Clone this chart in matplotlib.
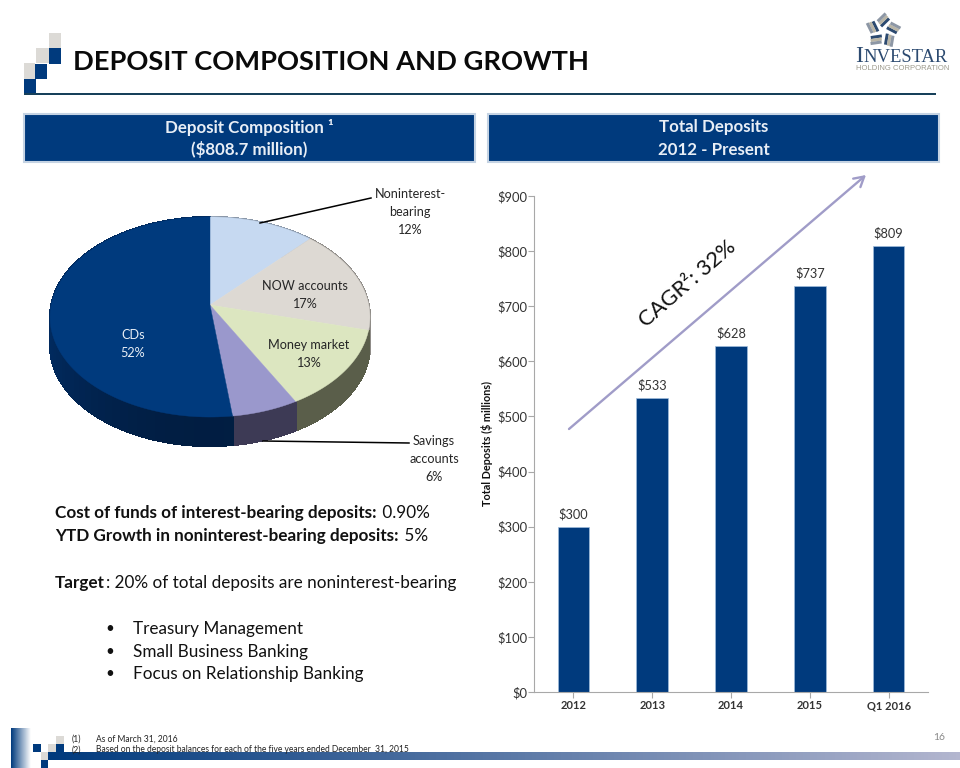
import numpy as np
import matplotlib
matplotlib.use("Agg")
import matplotlib.pyplot as plt
from matplotlib.patches import Polygon, Rectangle
from matplotlib.colors import LinearSegmentedColormap

plt.rcParams['font.family'] = ['Lato', 'DejaVu Sans']

# pie data
pie_labels = ["Noninterest-\nbearing", "NOW accounts", "Money market", "Savings\naccounts", "CDs"]
pie_shares = [12, 17, 13, 6, 52]
pie_colors = ["#c6d9f1", "#ddd9d3", "#dce6c0", "#9a98cc", "#003a7d"]
side_colors = ["#8a97a8", "#8f8c88", "#5a5e4a", "#3d3a55", "#012a5e"]

# bar data
years = ["2012", "2013", "2014", "2015", "Q1 2016"]
totals = [300, 533, 628, 737, 809]
y_ticks = [0, 100, 200, 300, 400, 500, 600, 700, 800, 900]

NAVY = "#003a7d"
W, H = 960, 768

fig = plt.figure(figsize=(9.6, 7.68), dpi=100, facecolor="white")
bg = fig.add_axes([0, 0, 1, 1])
bg.set_xlim(0, W)
bg.set_ylim(H, 0)
bg.axis("off")


def rect(x0, y0, x1, y1, color, z=2, **kw):
    bg.add_patch(Rectangle((x0, y0), x1 - x0, y1 - y0, facecolor=color, edgecolor="none", zorder=z, **kw))


def mixed(x, y, bold, regular, size):
    # bold part followed by regular part on the same line
    t = bg.text(x, y, bold, fontsize=size, fontweight="bold", va="center", color="#111111", zorder=6)
    if regular:
        fig.canvas.draw()
        ext = t.get_window_extent()
        bg.text(ext.x1 + 1, y, regular, fontsize=size, va="center", color="#111111", zorder=6)


# title block
for sq in [(49, 33, 61, 48, "#dcdad6"), (49, 48, 61, 64, NAVY), (36, 48, 49, 63, "#dcdad6"),
           (35, 64, 47, 79, NAVY), (24, 63, 35, 79, "#dcdad6"), (24, 79, 36, 95, NAVY)]:
    rect(*sq)
rect(24, 93, 936, 95, "#17405a")
bg.text(73, 62, "DEPOSIT COMPOSITION AND GROWTH", fontsize=19.6, fontweight="bold",
        va="center", color="#0a0a0a")

# header boxes
for x0, x1, l1, l2 in [(24, 475, "Deposit Composition ¹", "($808.7 million)"),
                       (488, 939, "Total Deposits", "2012 - Present")]:
    bg.add_patch(Rectangle((x0, 114), x1 - x0, 48, facecolor=NAVY, edgecolor="#c5d3e3", lw=1.5, zorder=2))
    xc = (x0 + x1) / 2
    bg.text(xc, 127, l1, color="#e8eef6", fontsize=12.2, fontweight="bold", ha="center", va="center", zorder=3)
    bg.text(xc, 150, l2, color="#e8eef6", fontsize=12.2, fontweight="bold", ha="center", va="center", zorder=3)

# logo
star_c = np.array((883, 31))
for ang in np.arange(0, 360, 72) + 20:
    a = np.radians(ang)
    d = np.array([np.cos(a), np.sin(a)])
    n = np.array([-d[1], d[0]])
    for off, col in [(0, "#2c4a70"), (3, "#b9b5a6"), (6, "#8d97a5")]:
        p0 = star_c + d * (5 + off) + n * 1
        p1 = p0 + n * 11 + d * 2
        bg.plot([p0[0], p1[0]], [p0[1], p1[1]], color=col, lw=2.2, solid_capstyle="butt")
serif = ["Liberation Serif", "DejaVu Serif"]
bg.text(855, 56, "I", fontsize=17, family=serif, color="#2c4a70", va="center")
bg.text(863, 57, "NVESTAR", fontsize=13.4, family=serif, color="#2c4a70", va="center")
bg.text(856, 69, "HOLDING CORPORATION", fontsize=5.5, family=["Liberation Sans"], color="#9d9a8c", va="center")


# pie, top face is a circle seen in perspective
cx, cy = 210, 305
rx, ry, w = 158.8, 98.6, 0.12
depth = 29


def rim(phi):
    s, v = np.sin(phi), np.cos(phi)
    d = 1 + w * v
    return cx + rx * s / d, cy - ry * v / d


edges = np.radians(np.cumsum([0] + pie_shares) * 3.6)

# side wall first
for i in range(len(pie_shares)):
    phis = np.linspace(edges[i], edges[i + 1], 60)
    base = matplotlib.colors.to_rgb(side_colors[i])
    for a, b in zip(phis[:-1], phis[1:]):
        xa, ya = rim(a)
        xb, yb = rim(b)
        # shade goes darker toward the front of the pie
        shade = 1.0 - 0.3 * max(0, -np.cos((a + b) / 2)) ** 2 if i == 4 else 1.0
        col = tuple(c * shade for c in base)
        bg.add_patch(Polygon([(xa, ya), (xb, yb), (xb, yb + depth), (xa, ya + depth)],
                             facecolor=col, edgecolor=col, lw=0.8, antialiased=False, zorder=3))

for i in range(len(pie_shares)):
    phis = np.linspace(edges[i], edges[i + 1], 120)
    xs, ys = rim(phis)
    pts = [(cx, cy)] + list(zip(xs, ys))
    bg.add_patch(Polygon(pts, facecolor=pie_colors[i], edgecolor=pie_colors[i], lw=0.3, zorder=4))

# pie labels
pie_pos = [(410, 212), (305, 295), (309, 354), (434, 459), (133, 344)]
for i, (lab, share) in enumerate(zip(pie_labels, pie_shares)):
    col = "#e8eef6" if i == 4 else "#262626"
    bg.text(pie_pos[i][0], pie_pos[i][1], "{}\n{}%".format(lab, share), ha="center", va="center",
            fontsize=9.1, color=col, linespacing=1.6, zorder=6)
bg.plot([260, 371], [223, 198], color="black", lw=1.1, zorder=5)
bg.plot([263, 409], [441, 443], color="black", lw=1.1, zorder=5)

# left text
mixed(55, 513, "Cost of funds of interest-bearing deposits:", " 0.90%", 12.3)
mixed(55, 536, "YTD Growth in noninterest-bearing deposits:", " 5%", 12.3)
mixed(55, 583, "Target", ": 20% of total deposits are noninterest-bearing", 12.3)
for y, item in zip([629, 652, 674], ["Treasury Management", "Small Business Banking", "Focus on Relationship Banking"]):
    bg.text(105, y, "•", fontsize=11, va="center", color="#111111")
    bg.text(133, y, item, fontsize=12.3, va="center", color="#111111")

# footer
fade = LinearSegmentedColormap.from_list("fade", [NAVY, "#ffffff"])
bg.imshow(np.linspace(0, 1, 64).reshape(1, -1), cmap=fade, extent=(11, 31, 768, 728), aspect="auto", zorder=1)
fade2 = LinearSegmentedColormap.from_list("fade2", [NAVY, "#b3b6cf"])
bg.imshow(np.linspace(0, 1, 256).reshape(1, -1), cmap=fade2, extent=(48, 960, 760, 752), aspect="auto", zorder=1)
bg.set_xlim(0, W)
bg.set_ylim(H, 0)
for sq in [(56, 736, 64, 744, "#dcdad6"), (56, 744, 64, 752, NAVY), (48, 744, 56, 752, "#dcdad6"),
           (33, 744, 41, 752, NAVY), (41, 752, 48, 760, "#dcdad6"), (41, 760, 48, 768, NAVY)]:
    rect(*sq)
bg.text(72, 739, "(1)", fontsize=6.15, va="center", color="#222222", zorder=6)
bg.text(96, 739, "As of March 31, 2016", fontsize=6.15, va="center", color="#222222", zorder=6)
bg.text(72, 750, "(2)", fontsize=6.15, va="center", color="#222222", zorder=6)
bg.text(96, 750, "Based on the deposit balances for each of the five years ended December  31, 2015",
        fontsize=6.15, va="center", color="#222222", zorder=6)
bg.text(945, 737, "16", fontsize=7.5, ha="right", va="center", color="#8a8a8a")

# bar chart
ax = fig.add_axes([534 / W, 1 - 692 / H, (928 - 534) / W, (692 - 196) / H])
ax.patch.set_alpha(0)
x = np.arange(len(years))
ax.bar(x, totals, width=0.4, color=NAVY, edgecolor="#9fbcdc", linewidth=0.5)
for xi, val in zip(x, totals):
    ax.text(xi, val + 12, "${}".format(val), ha="center", va="bottom", fontsize=9.2, color="#333333")
ax.set_xlim(-0.5, len(years) - 0.5)
ax.set_ylim(0, 900)
ax.set_xticks(x)
ax.set_xticklabels(years, fontsize=8, fontweight="bold", color="#333333", va="baseline")
ax.set_yticks(y_ticks)
ax.set_yticklabels(["${}".format(v) for v in y_ticks], fontsize=9.4, color="#333333")
ax.set_ylabel("Total Deposits ($ millions)", fontsize=7.8, fontweight="bold", labelpad=3, color="#111111")
ax.spines["top"].set_visible(False)
ax.spines["right"].set_visible(False)
ax.spines["left"].set_color("#a8a8a8")
ax.spines["bottom"].set_color("#a8a8a8")
ax.tick_params(axis="y", color="#a8a8a8", length=4, pad=0.5)
ax.tick_params(axis="x", color="#a8a8a8", length=4, pad=8.5)

# growth arrow, on top of the bars
top = fig.add_axes([0, 0, 1, 1])
top.set_xlim(0, W)
top.set_ylim(H, 0)
top.axis("off")
top.patch.set_alpha(0)
top.annotate("", xy=(866, 175), xytext=(569, 429),
             arrowprops=dict(arrowstyle="->,head_length=0.7,head_width=0.4", color="#a09cc8", lw=1.7, shrinkA=0, shrinkB=0))
top.text(688, 284, "CAGR²: 32%", fontsize=15.8, rotation=41, rotation_mode="anchor",
         ha="center", va="center", color="#111111")

fig.savefig("out.png", dpi=100)
